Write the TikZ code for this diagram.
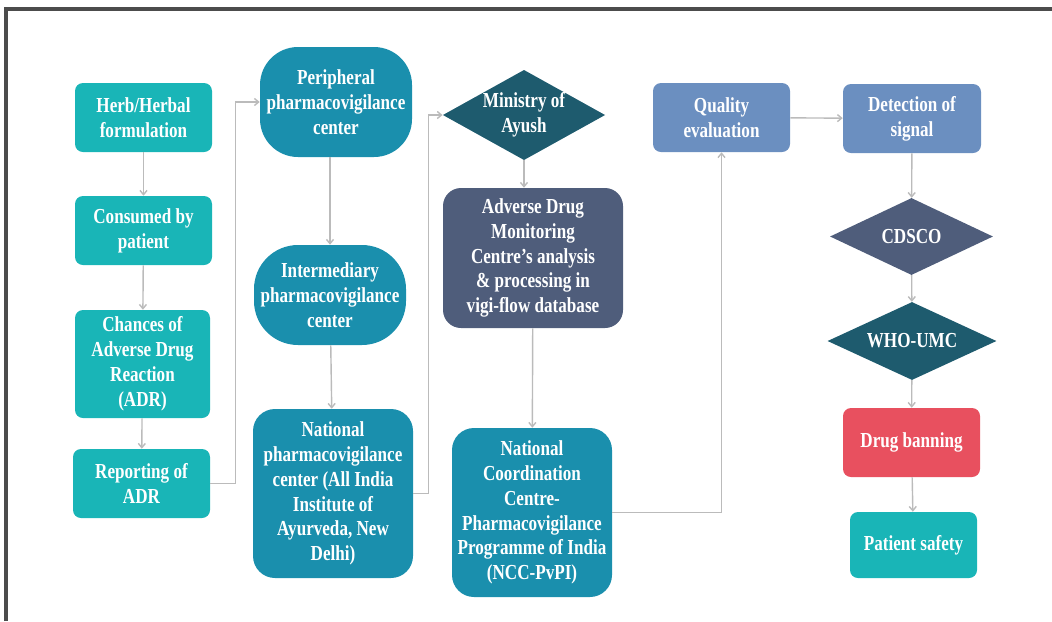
\documentclass[tikz,border=0pt]{standalone}
\usepackage{fontspec}
\setmainfont{Liberation Serif}[FakeStretch=0.8]
\usetikzlibrary{shapes.geometric,arrows.meta}
\definecolor{tealA}{RGB}{25,181,183}
\definecolor{tealB}{RGB}{26,143,173}
\definecolor{tealC}{RGB}{30,91,110}
\definecolor{pizarra}{RGB}{79,93,123}
\definecolor{azul}{RGB}{107,143,192}
\definecolor{rojo}{RGB}{232,80,95}
\definecolor{gris}{RGB}{187,187,187}
\tikzset{
    caja/.style 2 args={draw=none,rectangle,rounded corners=0.2cm,minimum width=#1*0.025cm,minimum height=#2*0.025cm,inner sep=0pt},
    rombo/.style 2 args={draw=none,diamond,aspect=1.8,minimum width=#1*0.025cm,minimum height=#2*0.025cm,inner sep=0pt},
    flecha/.style={draw=gris,line width=1pt,-{Straight Barb[length=3pt,width=5pt]}}
}
\begin{document}
\begin{tikzpicture}[x=0.025cm,y=-0.025cm,
    every node/.style={text=white,align=center,font=\bfseries\fontsize{15.2pt}{17.7pt}\selectfont}]
    \useasboundingbox (0,0) rectangle (1052,621);
    %Marco
    \draw[gray!60!black,line width=2.2pt] (6,621) -- (6,9) -- (1052,9);

    %Columna 1
    \node[caja={137}{69},fill=tealA] (herb) at (143.5,117.5) {Herb/Herbal\\formulation};
    \node[caja={137}{69},fill=tealA] (cons) at (143.5,230.5) {Consumed by\\patient};
    \node[caja={135}{108},fill=tealA] (adr) at (142.5,364) {Chances of\\Adverse Drug\\Reaction\\(ADR)};
    \node[caja={137}{69},fill=tealA] (rep) at (141.5,483.5) {Reporting of\\ADR};

    %Columna 2
    \node[caja={152}{110},fill=tealB,rounded corners=0.95cm] (peri) at (336,102) {Peripheral\\pharmacovigilance\\center};
    \node[caja={152}{100},fill=tealB,rounded corners=1.1cm] (inter) at (330,295) {Intermediary\\pharmacovigilance\\center};
    \node[caja={160}{169},fill=tealB,rounded corners=0.55cm] (nat) at (333,493.5) {National\\pharmacovigilance\\center (All India\\Institute of\\Ayurveda, New\\Delhi)};

    %Columna 3
    \node[rombo={162}{90},fill=tealC] (min) at (524,115) {Ministry of\\Ayush};
    \node[caja={180}{140},fill=pizarra,rounded corners=0.45cm] (adm) at (533,258) {Adverse Drug\\Monitoring\\Centre’s analysis\\\& processing in\\vigi-flow database};
    \node[caja={160}{169},fill=tealB,rounded corners=0.55cm] (ncc) at (532,512.5) {National\\Coordination\\Centre-\\Pharmacovigilance\\Programme of India\\(NCC-PvPI)};

    %Columnas 4 y 5
    \node[caja={137}{69},fill=azul] (qual) at (721.5,117.5) {Quality\\evaluation};
    \node[caja={138}{69},fill=azul] (det) at (912,118.5) {Detection of\\signal};
    \node[rombo={163}{77},fill=pizarra] (cds) at (911.5,236.5) {CDSCO};
    \node[rombo={169}{78},fill=tealC] (who) at (912,341) {WHO-UMC};
    \node[caja={137}{69},fill=rojo] (ban) at (911.5,442.5) {Drug banning};
    \node[caja={127}{66},fill=tealA] (safe) at (913.5,545) {Patient safety};

    %Flechas
    \draw[flecha] (herb) -- (cons);
    \draw[flecha] (cons) -- (adr);
    \draw[flecha] (adr) -- (rep);
    \draw[flecha] (rep.east) -- ++(25,0) |- (peri.west);
    \draw[flecha] (inter.north |- peri.south) -- (inter.north);
    \draw[flecha] (inter) -- (nat);
    \draw[flecha] (nat.east) -- ++(15,0) |- (min.west);
    \draw[flecha] (min.south) -- (min.south |- adm.north);
    \draw[flecha] (adm) -- (ncc);
    \draw[flecha] (ncc.east) -| (qual.south);
    \draw[flecha] (qual) -- (det);
    \draw[flecha] (det) -- (cds);
    \draw[flecha] (cds) -- (who);
    \draw[flecha] (who) -- (ban);
    \draw[flecha] (ban) -- (safe);
\end{tikzpicture}
\end{document}
